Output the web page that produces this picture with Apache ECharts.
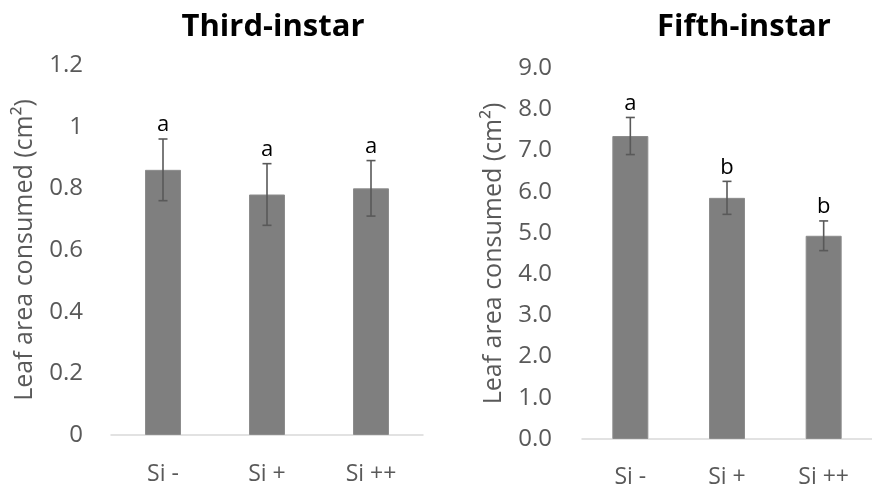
<!DOCTYPE html>
<html>
<head>
<meta charset="utf-8">
<script src="https://cdn.jsdelivr.net/npm/echarts@6/dist/echarts.min.js"></script>
<style>html,body{margin:0;padding:0;background:#fff}#c{width:872px;height:489px}</style>
</head>
<body>
<div id="c"></div>
<script>
const categories = ['Si -', 'Si +', 'Si ++'];
const thirdMeans = [0.86, 0.78, 0.80];
const thirdErr = [0.10, 0.10, 0.09];
const thirdLetters = ['a', 'a', 'a'];
const fifthMeans = [7.35, 5.85, 4.93];
const fifthErr = [0.45, 0.40, 0.36];
const fifthLetters = ['a', 'b', 'b'];
const titles = ['Third-instar', 'Fifth-instar'];
const yName = 'Leaf area consumed (cm²)';

const FONT = '"Open Sans", sans-serif';
const GREY = '#595959';

function errSeries(idx, means, errs, letters) {
  return {
    type: 'custom',
    xAxisIndex: idx, yAxisIndex: idx,
    z: 10,
    data: means.map((m, i) => [i, m - errs[i], m + errs[i]]),
    renderItem: function (params, api) {
      const x = api.coord([api.value(0), 0])[0];
      const lo = api.coord([api.value(0), api.value(1)])[1];
      const hi = api.coord([api.value(0), api.value(2)])[1];
      const cap = 4.5;
      const st = { stroke: GREY, lineWidth: 1.6 };
      return {
        type: 'group',
        children: [
          { type: 'line', shape: { x1: x, y1: lo, x2: x, y2: hi }, style: st },
          { type: 'line', shape: { x1: x - cap, y1: lo, x2: x + cap, y2: lo }, style: st },
          { type: 'line', shape: { x1: x - cap, y1: hi, x2: x + cap, y2: hi }, style: st },
          { type: 'text', x: x, y: hi - 3, style: {
              text: letters[params.dataIndex], fill: '#000', font: '22px ' + FONT,
              align: 'center', verticalAlign: 'bottom' } }
        ]
      };
    }
  };
}

const axisX = (idx, margin) => ({
  type: 'category', gridIndex: idx, data: categories,
  axisLine: { lineStyle: { color: '#d9d9d9', width: 1.5 } },
  axisTick: { show: false },
  axisLabel: { color: GREY, fontSize: 23, fontFamily: FONT, margin: margin }
});

const chart = echarts.init(document.getElementById('c'), null, { renderer: 'canvas' });
chart.setOption({
  animation: false,
  backgroundColor: '#fff',
  title: [
    { text: titles[0], left: 268, top: 7, textAlign: 'center',
      textStyle: { fontFamily: FONT, fontWeight: 'bold', fontSize: 31, color: '#000' } },
    { text: titles[1], left: 739, top: 7, textAlign: 'center',
      textStyle: { fontFamily: FONT, fontWeight: 'bold', fontSize: 31, color: '#000' } }
  ],
  grid: [
    { left: 111, width: 312, top: 65, bottom: 54 },
    { left: 582, width: 312, top: 68, bottom: 50 }
  ],
  xAxis: [axisX(0, 28), axisX(1, 27)],
  yAxis: [
    { type: 'value', gridIndex: 0, min: 0, max: 1.2, interval: 0.2,
      name: yName, nameLocation: 'middle', nameGap: 74, nameRotate: 90,
      nameTextStyle: { color: GREY, fontSize: 25, fontFamily: FONT },
      axisLine: { show: false }, axisTick: { show: false }, splitLine: { show: false },
      axisLabel: { color: GREY, fontSize: 24, fontFamily: FONT, margin: 28,
        formatter: v => String(Math.round(v * 10) / 10) } },
    { type: 'value', gridIndex: 1, min: 0, max: 9, interval: 1,
      name: yName, nameLocation: 'middle', nameGap: 76, nameRotate: 90,
      nameTextStyle: { color: GREY, fontSize: 25, fontFamily: FONT },
      axisLine: { show: false }, axisTick: { show: false }, splitLine: { show: false },
      axisLabel: { color: GREY, fontSize: 24, fontFamily: FONT, margin: 30,
        formatter: v => v.toFixed(1) } }
  ],
  series: [
    { type: 'bar', xAxisIndex: 0, yAxisIndex: 0, data: thirdMeans, barWidth: 36,
      itemStyle: { color: '#7f7f7f', borderColor: '#8c8c8c', borderWidth: 1 } },
    { type: 'bar', xAxisIndex: 1, yAxisIndex: 1, data: fifthMeans, barWidth: 36,
      itemStyle: { color: '#7f7f7f', borderColor: '#8c8c8c', borderWidth: 1 } },
    errSeries(0, thirdMeans, thirdErr, thirdLetters),
    errSeries(1, fifthMeans, fifthErr, fifthLetters)
  ]
});
</script>
</body>
</html>
